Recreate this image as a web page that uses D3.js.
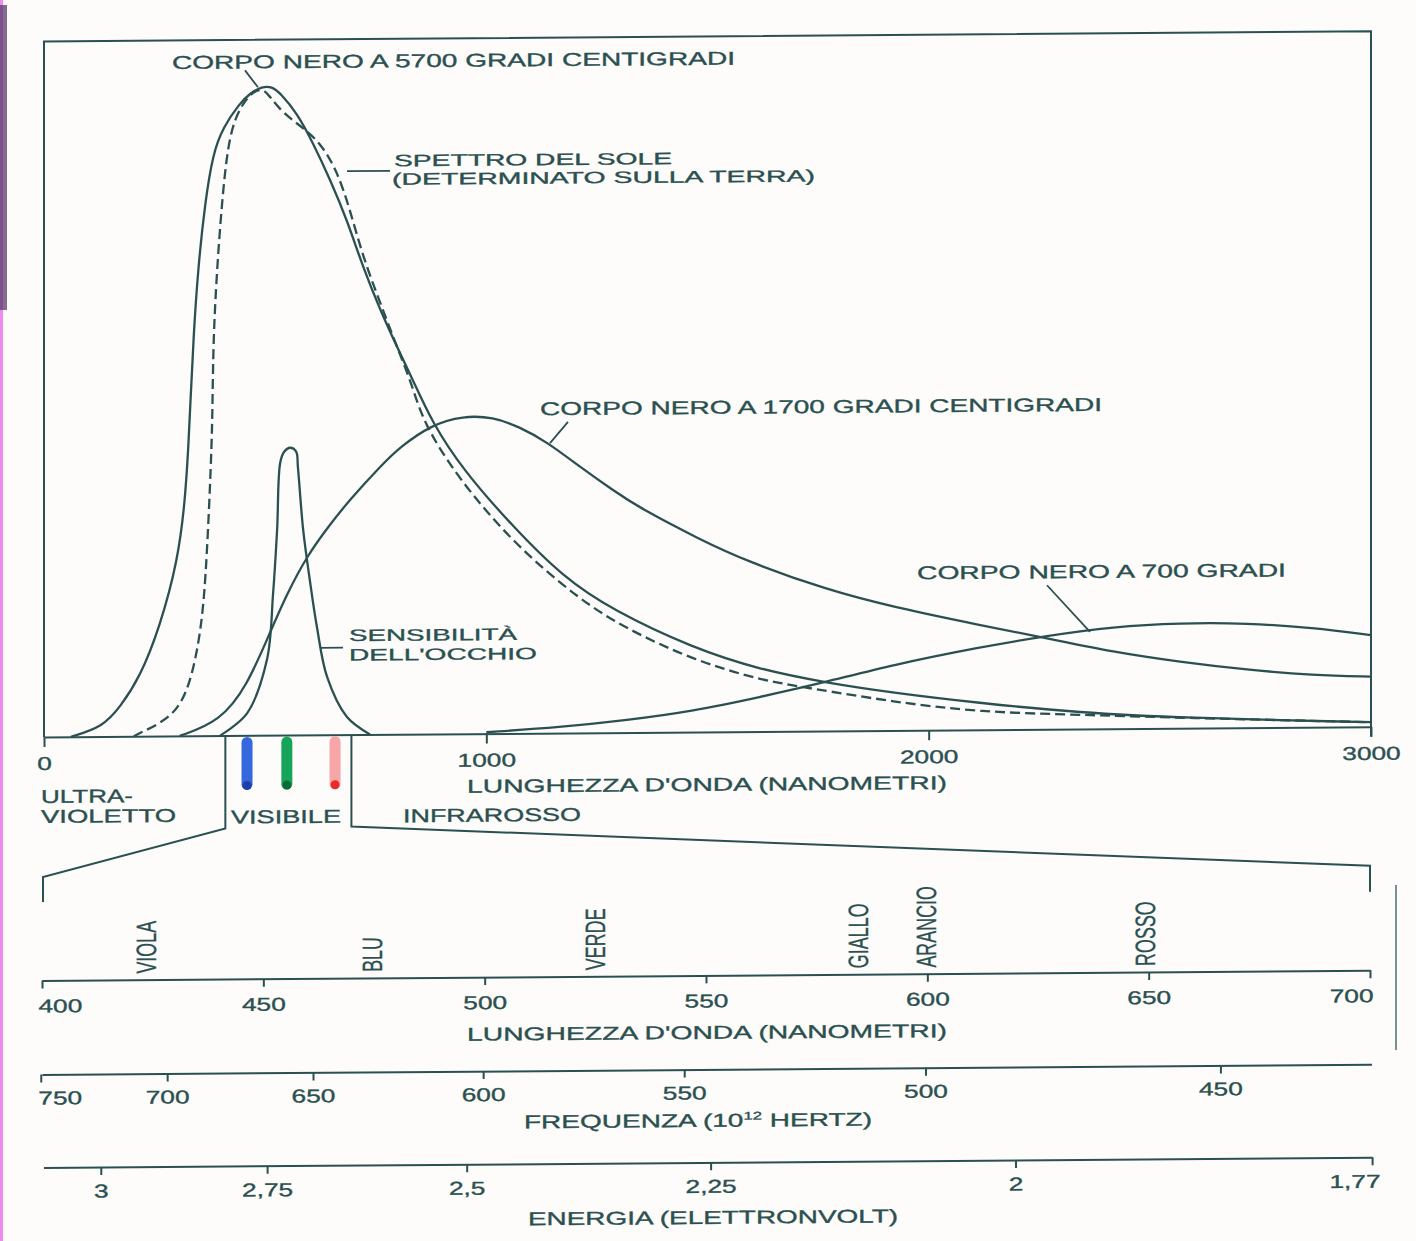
<!DOCTYPE html>
<html>
<head>
<meta charset="utf-8">
<script src="https://cdn.jsdelivr.net/npm/d3@7"></script>
<style>
  html, body { margin: 0; background: #fefcfa; }
  svg { display: block; }
</style>
</head>
<body>
<div id="chart"></div>
<script>
// --- data: [wavelength nm, relative intensity (5700 peak ~ 100)] ---
const corpoNero5700 = [
  [61, 0], [133, 1.5], [172, 4.5], [217, 9.1], [262, 16.8], [303, 27.1], [319, 36.3],
  [326, 44.0], [331, 51.2], [338, 61.4], [348, 71.7], [364, 82.0], [382, 89.6],
  [405, 93.6], [443, 97.3], [466, 98.8], [493, 99.8], [515, 99.8], [534, 98.8],
  [572, 95.7], [608, 91.1], [647, 85.4], [685, 79.2], [721, 71.9], [760, 65.3],
  [798, 59.6], [834, 54.5], [877, 48.0], [947, 40.6], [1060, 31.8], [1173, 24.0],
  [1286, 18.8], [1467, 12.9], [1619, 9.5], [1770, 7.4], [1919, 5.8], [2116, 4.1],
  [2342, 2.5], [2568, 1.6], [3000, 0.7]
];
const spettroSole = [
  [203, 0], [217, 0.5], [292, 2.9], [330, 7.5], [357, 16.7], [368, 27.0], [379, 44.0],
  [381, 51.2], [383, 61.3], [391, 71.6], [402, 81.9], [416, 91.2], [436, 95.8],
  [466, 98.8], [495, 99.6], [511, 98.2], [540, 95.7], [586, 93.4], [624, 91.1],
  [662, 86.9], [692, 80.7], [721, 73.5], [760, 66.4], [798, 59.6], [834, 53.4],
  [857, 48.0], [934, 39.5], [1060, 29.3], [1212, 20.4], [1318, 15.9], [1467, 11.1],
  [1619, 7.9], [1732, 6.6], [1919, 4.4], [2116, 2.7], [2342, 2.2], [2568, 1.6], [3000, 0.7]
];
const corpoNero1700 = [
  [307, 0], [398, 2.2], [459, 7.6], [511, 15.8], [549, 21.7], [595, 27.6], [647, 32.4],
  [692, 36.2], [760, 41.2], [805, 44.2], [877, 47.6], [947, 48.9], [1015, 48.7],
  [1076, 47.1], [1137, 44.8], [1212, 40.9], [1286, 37.3], [1347, 34.5], [1483, 29.6],
  [1589, 26.2], [1770, 21.7], [1919, 19.0], [2116, 16.1], [2268, 14.0], [2417, 11.8],
  [2568, 10.2], [2720, 8.9], [2869, 8.0], [3000, 7.7]
];
const corpoNero700 = [
  [1000, 0.2], [1167, 0.9], [1318, 1.9], [1467, 3.2], [1619, 5.3], [1761, 7.4],
  [1919, 10.1], [2116, 12.7], [2268, 14.4], [2417, 15.7], [2568, 16.2], [2720, 16.1],
  [2869, 15.3], [3000, 14.1]
];
const sensibilitaOcchio = [
  [398, 0], [459, 3.4], [504, 11.6], [518, 21.9], [527, 31.6], [534, 41.9], [543, 43.6],
  [556, 44.2], [570, 43.6], [574, 41.2], [586, 31.5], [601, 23.8], [617, 16.6],
  [640, 8.9], [685, 2.7], [737, 0]
];

// ticks and labels
const mainTicks = [0, 1000, 2000, 3000];
const visibleMarks = [459, 549, 658];           // coloured strokes under the visible band (nm)
const visibleBand = [410, 695];                  // bracket of the visible band (nm)
const visTicks = [400, 450, 500, 550, 600, 650, 700];
const freqTicks = [750, 700, 650, 600, 550, 500, 450];   // 10^12 Hz
const energyTicks = [3, 2.75, 2.5, 2.25, 2, 1.77];       // eV
const colorNames = ['VIOLA', 'BLU', 'VERDE', 'GIALLO', 'ARANCIO', 'ROSSO'];
const colorNameWl = [423.5, 474.6, 524.9, 584.3, 599.8, 649.2];

const C_NM_THZ = 299792.458;  // lambda(nm) = C / f(THz)
const HC_EV_NM = 1239.84;     // lambda(nm) = HC / E(eV)

const width = 1416, height = 1241;
const ink = '#2b5051';
const FONT = "'Liberation Sans', Arial, Helvetica, sans-serif";

const svg = d3.select('#chart').append('svg')
    .attr('width', width)
    .attr('height', height);

svg.append('rect').attr('width', width).attr('height', height).attr('fill', '#fefcfa');

// scan edge: magenta strip and darker band at left, page edge at right
svg.append('rect').attr('x', 0).attr('y', 0).attr('width', 3).attr('height', height).attr('fill', '#f08cf0');
svg.append('rect').attr('x', 0).attr('y', 5).attr('width', 7).attr('height', 305).attr('fill', '#5b3c6e').attr('opacity', 0.75);
svg.append('line').attr('x1', 1396).attr('x2', 1396).attr('y1', 885).attr('y2', 1050)
    .attr('stroke', '#557a7a').attr('stroke-width', 2).attr('opacity', 0.8);

// the scan is slightly skewed: right side sits ~10px higher
const g = svg.append('g').attr('transform', 'translate(0,0.3) skewY(-0.44)');

const x = d3.scaleLinear().domain([0, 3000]).range([44, 1371]);
const y = d3.scaleLinear().domain([0, 100]).range([737, 87]);
const xVis = d3.scaleLinear().domain([400, 700]).range([42, 1370]);

// broad curves are smoothed (hand drawn originals), the narrow eye curve goes through its points
const smoothLine = d3.line()
    .x(d => x(d[0]))
    .y(d => y(d[1]))
    .curve(d3.curveBasis);
const exactLine = d3.line()
    .x(d => x(d[0]))
    .y(d => y(d[1]))
    .curve(d3.curveCatmullRom.alpha(0.5));

function addLabel(parent, str, xPos, yPos, w, anchor = 'start', size = 18.5) {
    const t = parent.append('text')
        .attr('x', xPos).attr('y', yPos)
        .attr('text-anchor', anchor)
        .attr('fill', ink)
        .attr('stroke', ink).attr('stroke-width', 0.35)
        .style('font-family', FONT)
        .style('font-size', size + 'px')
        .text(str);
    if (w) t.attr('textLength', w).attr('lengthAdjust', 'spacingAndGlyphs');
    return t;
}

// stretch text horizontally (the original lettering is wide)
function stretch(sel, k) {
    sel.each(function () {
        const n = this.getComputedTextLength();
        this.setAttribute('textLength', n * k);
        this.setAttribute('lengthAdjust', 'spacingAndGlyphs');
    });
}

function styleAxis(ax, labelY, size = 18.5) {
    ax.attr('fill', null).attr('font-size', null).attr('font-family', null);
    ax.select('.domain').attr('stroke', ink).attr('stroke-width', 2);
    ax.selectAll('.tick line').attr('stroke', ink).attr('stroke-width', 2);
    ax.selectAll('.tick text')
        .attr('y', labelY).attr('dy', null)
        .attr('fill', ink)
        .attr('stroke', ink).attr('stroke-width', 0.35)
        .style('font-family', FONT)
        .style('font-size', size + 'px');
}

// --- main chart frame ---
g.append('path')
    .attr('d', `M${x(0)},${y(0)} V41.5 H${x(3000)} V${y(0) + 10}`)
    .attr('fill', 'none').attr('stroke', ink).attr('stroke-width', 2);

const mainAxis = g.append('g')
    .attr('transform', `translate(0,${y(0)})`)
    .call(d3.axisBottom(x).tickValues(mainTicks).tickSize(10).tickSizeOuter(0).tickFormat(d3.format('d')));
styleAxis(mainAxis, 33);
stretch(mainAxis.selectAll('.tick text'), 1.42);

// --- curves ---
const curves = [
    { data: corpoNero5700, dash: null, gen: smoothLine },
    { data: spettroSole, dash: '10,5', gen: smoothLine },
    { data: corpoNero1700, dash: null, gen: smoothLine },
    { data: corpoNero700, dash: null, gen: smoothLine },
    { data: sensibilitaOcchio, dash: null, gen: exactLine }
];
g.selectAll('path.curve')
    .data(curves)
    .enter().append('path')
    .attr('class', 'curve')
    .attr('d', d => d.gen(d.data))
    .attr('fill', 'none')
    .attr('stroke', ink)
    .attr('stroke-width', 2.3)
    .attr('stroke-linejoin', 'round')
    .attr('stroke-dasharray', d => d.dash);

// --- curve labels and leader lines ---
addLabel(g, 'CORPO NERO A 5700 GRADI CENTIGRADI', 172, 70, 563);
addLabel(g, 'SPETTRO DEL SOLE', 394, 169, 278, 'start', 16.5);
addLabel(g, '(DETERMINATO SULLA TERRA)', 392, 187.5, 423, 'start', 16.5);
addLabel(g, 'CORPO NERO A 1700 GRADI CENTIGRADI', 540, 419, 562);
addLabel(g, 'CORPO NERO A 700 GRADI', 917, 586, 369);
addLabel(g, 'SENSIBILITÀ', 349, 643.5, 168, 'start', 16.5);
addLabel(g, "DELL'OCCHIO", 349, 663, 188, 'start', 16.5);

const leaders = [
    [[245, 72], [258, 89]],
    [[347, 173.5], [390, 173.5]],
    [[568, 426], [550, 447]],
    [[1047, 593], [1090, 640]],
    [[320, 650], [343, 650]]
];
g.selectAll('line.leader')
    .data(leaders)
    .enter().append('line')
    .attr('class', 'leader')
    .attr('x1', d => d[0][0]).attr('y1', d => d[0][1])
    .attr('x2', d => d[1][0]).attr('y2', d => d[1][1])
    .attr('stroke', ink).attr('stroke-width', 1.8);

addLabel(g, "LUNGHEZZA D'ONDA (NANOMETRI)", 467, 796, 480);
addLabel(g, 'ULTRA-', 41, 803, 92);
addLabel(g, 'VIOLETTO', 41, 823, 135);
addLabel(g, 'VISIBILE', 231, 825, 110);
addLabel(g, 'INFRAROSSO', 403, 825, 178);

// --- visible band bracket, opening onto the lower scale ---
const bL = x(visibleBand[0]), bR = x(visibleBand[1]);
g.append('path')
    .attr('d', `M${bL},${y(0)} V830 L${xVis(400) + 1},877 V902`)
    .attr('fill', 'none').attr('stroke', ink).attr('stroke-width', 2);
g.append('path')
    .attr('d', `M${bR},${y(0)} V829 L${xVis(700)},876 V902`)
    .attr('fill', 'none').attr('stroke', ink).attr('stroke-width', 2);

// coloured strokes
const markColors = ['#3468dc', '#15a45a', '#f6a6a6'];
const markDots = ['#1d3fa8', '#0b6b3a', '#e82a2a'];
visibleMarks.forEach((wl, i) => {
    g.append('line')
        .attr('x1', x(wl)).attr('x2', x(wl))
        .attr('y1', 744).attr('y2', 786)
        .attr('stroke', markColors[i]).attr('stroke-width', 11).attr('stroke-linecap', 'round');
    g.append('circle')
        .attr('cx', x(wl)).attr('cy', 787).attr('r', 4.5)
        .attr('fill', markDots[i]);
});

// --- lower scales ---
// wavelength 400-700
const visAxis = g.append('g')
    .attr('transform', 'translate(0,980.5)')
    .call(d3.axisBottom(xVis).tickValues(visTicks).tickSize(8).tickSizeOuter(0).tickFormat(d3.format('d')));
styleAxis(visAxis, 32);
visAxis.selectAll('.tick text')
    .attr('text-anchor', d => d === 400 ? 'start' : d === 700 ? 'end' : 'middle')
    .attr('dx', d => d === 400 ? -4 : d === 700 ? 3 : 0);
stretch(visAxis.selectAll('.tick text'), 1.42);

colorNames.forEach((nm, i) => {
    const t = g.append('text')
        .attr('transform', `translate(${xVis(colorNameWl[i]) + 10},974.5) rotate(-90)`)
        .attr('fill', ink)
        .attr('stroke', ink).attr('stroke-width', 0.3)
        .style('font-family', FONT)
        .style('font-size', '28px')
        .text(nm);
    stretch(t, 0.64);
});

addLabel(g, "LUNGHEZZA D'ONDA (NANOMETRI)", 467, 1044, 480);

// frequency (10^12 Hz): position through lambda = c / f
const freqAxis = g.append('g')
    .attr('transform', 'translate(0,1074.5)')
    .call(d3.axisBottom(xVis)
        .tickValues(freqTicks.map(f => C_NM_THZ / f))
        .tickSize(8).tickSizeOuter(0)
        .tickFormat(l => Math.round(C_NM_THZ / l)));
freqAxis.select('.domain').attr('d', `M${xVis.range()[0] + 0.5},0.5H1372`);
styleAxis(freqAxis, 30);
freqAxis.selectAll('.tick text')
    .attr('text-anchor', (d, i) => i === 0 ? 'start' : 'middle')
    .attr('dx', (d, i) => i === 0 ? -3 : 0);
stretch(freqAxis.selectAll('.tick text'), 1.42);

const fLab = addLabel(g, 'FREQUENZA (10', 524, 1132, null);
fLab.append('tspan').attr('dy', -7).style('font-size', '11px').text('12');
fLab.append('tspan').attr('dy', 7).text(' HERTZ)');
fLab.attr('textLength', 348).attr('lengthAdjust', 'spacingAndGlyphs');

// energy (eV): position through lambda = hc / E
const energyAxis = g.append('g')
    .attr('transform', 'translate(0,1167.5)')
    .call(d3.axisBottom(xVis)
        .tickValues(energyTicks.map(e => HC_EV_NM / e))
        .tickSize(8).tickSizeOuter(0)
        .tickFormat(l => String(+(HC_EV_NM / l).toFixed(2)).replace('.', ',')));
energyAxis.select('.domain').attr('d', `M44,0.5H${xVis(HC_EV_NM / 1.77) + 0.5}`);
styleAxis(energyAxis, 30.5);
energyAxis.selectAll('.tick text')
    .attr('text-anchor', (d, i) => i === energyTicks.length - 1 ? 'end' : 'middle')
    .attr('dx', (d, i) => i === energyTicks.length - 1 ? 8 : 0);
stretch(energyAxis.selectAll('.tick text'), 1.42);

addLabel(g, 'ENERGIA (ELETTRONVOLT)', 528, 1229, 370);
</script>
</body>
</html>
